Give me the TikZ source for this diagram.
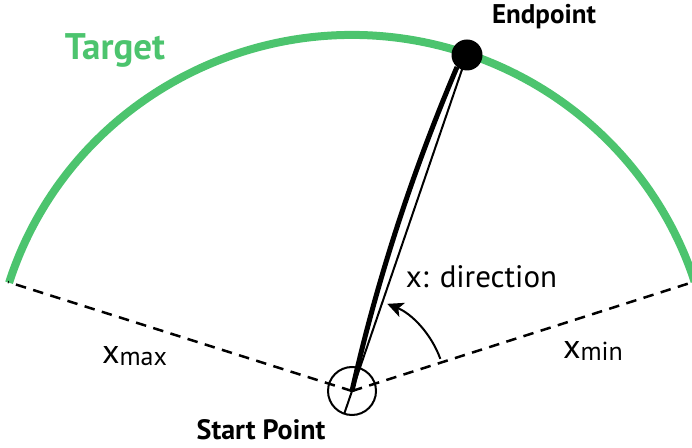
\documentclass[tikz,border=0pt]{standalone}
\usepackage{fontspec}
\setmainfont{PT Sans}
\usetikzlibrary{arrows.meta,calc}
\definecolor{tgreen}{RGB}{76,196,110}
\begin{document}
\begin{tikzpicture}[x=1pt,y=1pt,
  lbl/.style={inner sep=0pt, anchor=base},
  boldlbl/.style={lbl, font=\bfseries\fontsize{27}{27}\selectfont},
  dashline/.style={line width=2.5pt, dash pattern=on 10.5pt off 7.5pt},
  targetarc/.style={line width=8pt, draw=tgreen},
  thickline/.style={line width=5pt},
  thinline/.style={line width=2pt},
  anglearrow/.style={line width=2pt, -{Stealth[length=16pt,width=15pt,inset=4pt]}}]
\useasboundingbox (0,0) rectangle (692,447);
\coordinate (S) at (352,56);
\coordinate (E) at (467,392);
\coordinate (L) at (8,165);
\coordinate (R) at (690,164);
\coordinate (Etop) at (457,380);
\coordinate (C1) at (377,167);
\coordinate (C2) at (412,274);
% target arc
\draw[targetarc] (S) ++(162.3:360 and 356) arc[start angle=162.3, end angle=17.9, x radius=360pt, y radius=356pt];
% dashed limits
\draw[dashline] (S) -- (L);
\draw[dashline] (S) -- (R);
% start circle
\node[circle, draw, line width=2pt, minimum size=48pt, inner sep=0pt] (startc) at (S) {};
% lines to endpoint
\draw[thickline] (S) .. controls (C1) and (C2) .. (Etop);
\draw[thinline] (E) -- ($(S)!-24pt!(E)$);
% endpoint dot
\node[circle, fill=black, inner sep=0pt, minimum size=31pt] (dot) at (E) {};
% angle arrow
\draw[anglearrow] (S) ++(20:94) arc[start angle=20, end angle=68, radius=94pt];
% labels
\node[boldlbl] (endlbl) at (544,423) {Endpoint};
\node[lbl, font=\bfseries\fontsize{37}{37}\selectfont, text=tgreen] (tgtlbl) at (115,387) {Target};
\node[boldlbl, font=\bfseries\fontsize{28}{28}\selectfont] (startlbl) at (261,8) {Start Point};
\node[lbl, font=\fontsize{31}{31}\selectfont] (dirlbl) at (481.5,159) {x: direction};
\node[lbl] (xmaxlbl) at (134.5,84) {\fontsize{34}{34}\selectfont x\raisebox{-2pt}{\fontsize{26}{26}\selectfont max}};
\node[lbl] (xminlbl) at (593,89) {\fontsize{34}{34}\selectfont x\raisebox{-2pt}{\fontsize{26}{26}\selectfont min}};
\end{tikzpicture}
\end{document}
